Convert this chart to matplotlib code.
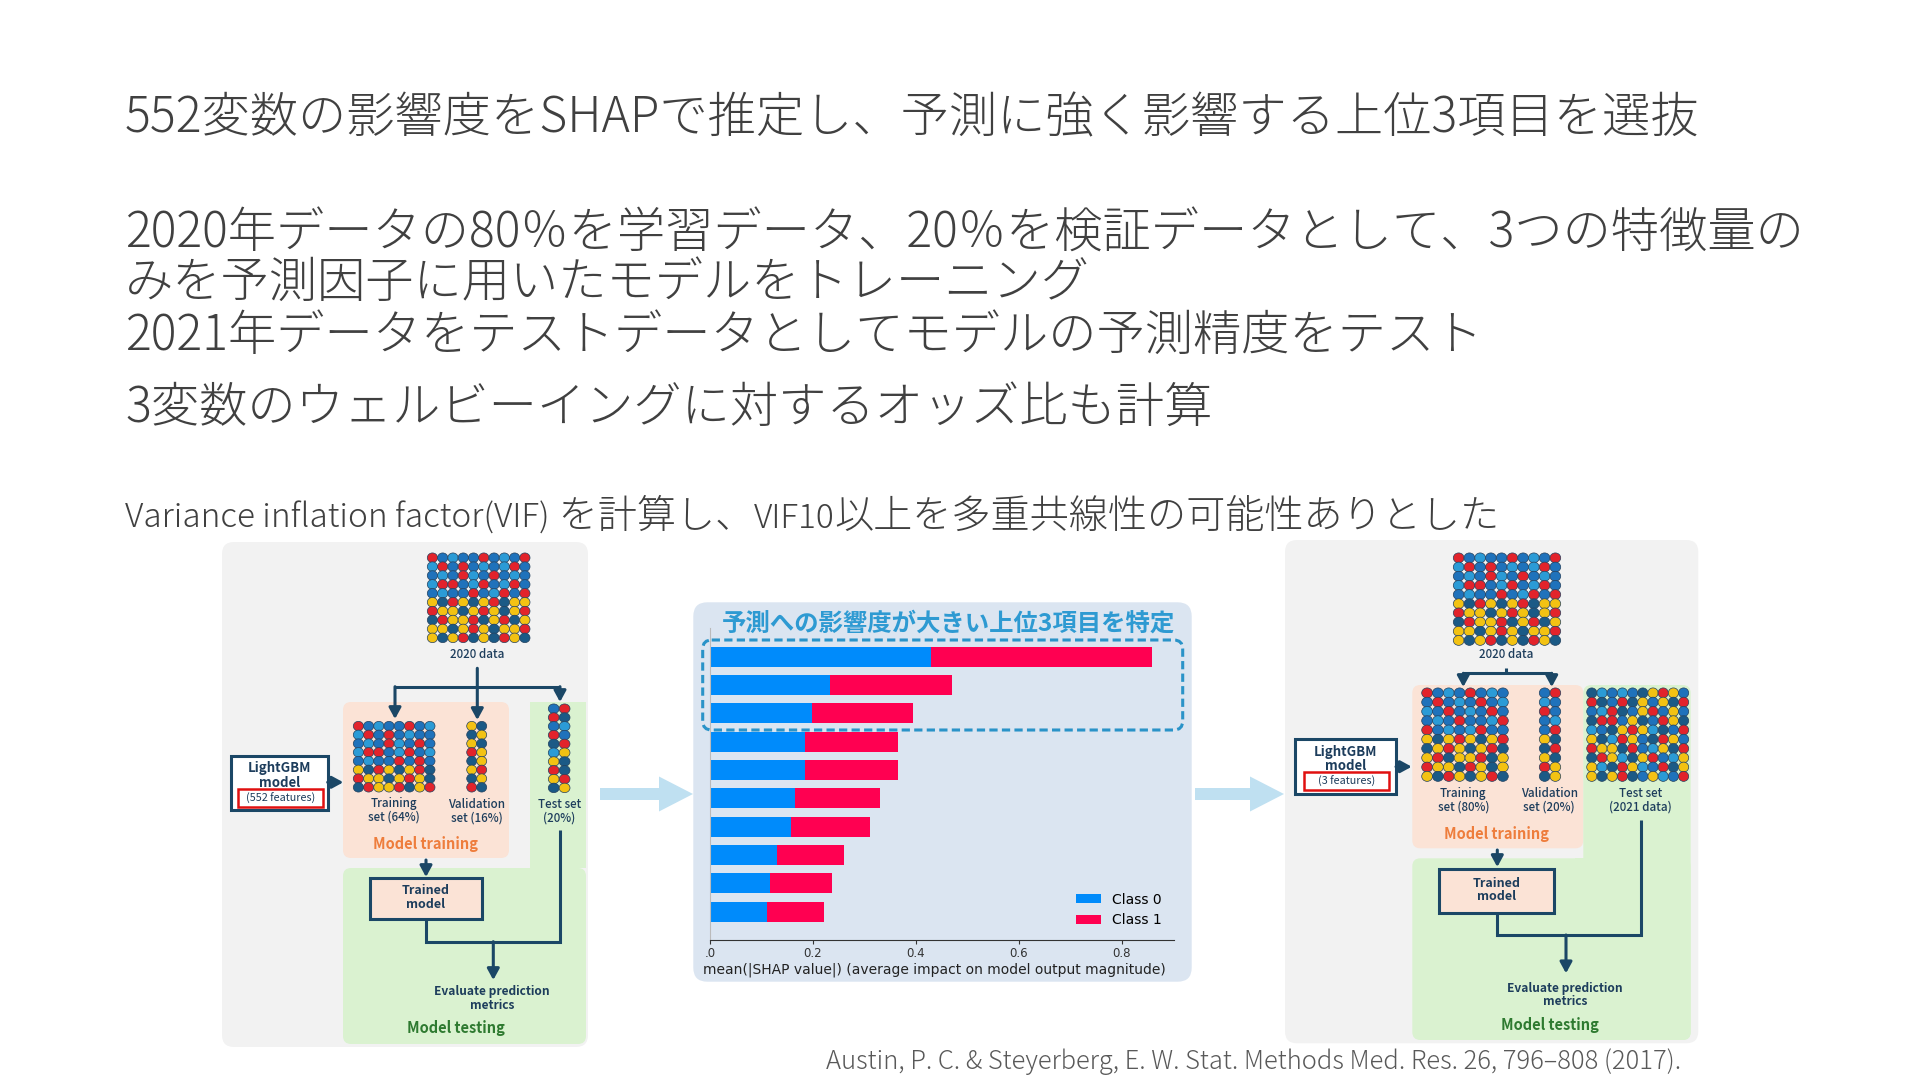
import matplotlib
matplotlib.use('Agg')
import matplotlib.pyplot as plt
from matplotlib.patches import FancyBboxPatch, Ellipse, Rectangle, FancyArrow
import numpy as np

plt.rcParams['font.family'] = ['Noto Sans CJK JP', 'DejaVu Sans']

# ---------------- data ----------------
heading_lines = [
    '552変数の影響度をSHAPで推定し、予測に強く影響する上位3項目を選抜',
    '2020年データの80％を学習データ、20％を検証データとして、3つの特徴量の',
    'みを予測因子に用いたモデルをトレーニング',
    '2021年データをテストデータとしてモデルの予測精度をテスト',
    '3変数のウェルビーイングに対するオッズ比も計算',
]
vif_note = 'Variance inflation factor(VIF) を計算し、VIF10以上を多重共線性の可能性ありとした'
citation = 'Austin, P. C. & Steyerberg, E. W. Stat. Methods Med. Res. 26, 796–808 (2017).'

shap_title = '予測への影響度が大きい上位3項目を特定'
shap_class0 = [0.430, 0.234, 0.198, 0.184, 0.184, 0.165, 0.157, 0.131, 0.117, 0.111]
shap_class1 = [0.429, 0.236, 0.196, 0.182, 0.182, 0.166, 0.155, 0.130, 0.121, 0.111]
shap_classes = ['Class 0', 'Class 1']
shap_xticks = [0.0, 0.2, 0.4, 0.6, 0.8]
shap_xticklabels = ['.0', '0.2', '0.4', '0.6', '0.8']
shap_xlabel = 'mean(|SHAP value|) (average impact on model output magnitude)'

left_labels = {'data': '2020 data', 'train': 'Training\nset (64%)', 'val': 'Validation\nset (16%)',
               'test': 'Test set\n(20%)', 'model': 'LightGBM\nmodel', 'feat': '(552 features)'}
right_labels = {'data': '2020 data', 'train': 'Training\nset (80%)', 'val': 'Validation\nset (20%)',
                'test': 'Test set\n(2021 data)', 'model': 'LightGBM\nmodel', 'feat': '(3 features)'}

grid_2020 = ["RBLBBRBLBR", "LRBRBLBLRB", "BLBRLBRBLB", "LRRBLRBLRB", "BLBBRBLRBR",
             "YDRYDYRDYY", "RYYDYRYDYR", "DRYYRDYRDY", "YYDYRYDYYR", "YDYRDYDRYD"]
grid_train_l = ["RBLBBRBL", "LRBRBLBB", "BLBRLBRB", "LRRBLRBL", "BLBBRBRB",
                "YDRYDYRD", "RYYDYRYD", "DRYYRDYR"]
grid_val_l = ["YD", "DY", "YD", "RY", "DY", "YR", "DY", "RD"]
grid_test_l = ["BR", "RD", "BL", "RB", "DR", "LY", "YD", "RD", "YR", "DY"]
grid_train_r = ["RBLBRBLB", "BRBLBRBL", "LBRBLBRB", "BLBRBBLR", "RBLBLRBB",
                "YDYRYDYR", "DYRYDYRD", "YRDYYRDY", "RYYDRYDY", "YDRYDYRD"]
grid_val_r = ["BR", "LB", "RB", "BL", "BR", "YD", "DR", "YD", "RY", "DY"]
grid_test_r = ["DLBLBDYRYB", "RDBRDYBYDR", "BLRDBYRBYB", "DRRBYDBRYD", "LBDYRYLDBR",
               "YDLRYBDRYB", "RYYDRBLYDR", "DRYLDYRBLY", "YLDRYLBRDY", "YDYRDBYLBR"]

dot_colors = {'R': '#e2232b', 'D': '#1b5a86', 'B': '#1f72bb', 'L': '#2b9bd6', 'Y': '#f3c213'}

# ---------------- styles ----------------
TXT = '#404040'
NAVY = '#1b4766'
DTXT = '#1d3d5c'
PEACH = '#fbe3d6'
GREEN = '#daf2d0'
GRAY = '#f2f2f2'
ORANGE = '#ee7d3c'
DGREEN = '#2e7a30'

fig = plt.figure(figsize=(19.2, 10.8), dpi=100)
fig.patch.set_facecolor('white')
ax = fig.add_axes([0, 0, 1, 1])
ax.set_xlim(0, 1920)
ax.set_ylim(1080, 0)
ax.axis('off')
renderer = fig.canvas.get_renderer()


def mixed_text(x, y, s, size_latin, size_cjk, **kw):
    """Draw text with Latin runs and CJK runs at different sizes, on one baseline."""
    def is_latin(ch):
        return ord(ch) < 128 and ch != ' '
    types = []
    for i, ch in enumerate(s):
        if ch == ' ':
            j = i
            while j < len(s) and s[j] == ' ':
                j += 1
            types.append(is_latin(s[j]) if j < len(s) else True)
        else:
            types.append(is_latin(ch))
    runs = []
    for ch, t in zip(s, types):
        if runs and runs[-1][1] == t:
            runs[-1][0] += ch
        else:
            runs.append([ch, t])
    for run, lat in runs:
        t = ax.text(x, y, run, fontsize=size_latin if lat else size_cjk, va='baseline', ha='left', **kw)
        bb = t.get_window_extent(renderer)
        x += bb.width


# ---------------- headings ----------------
head_y = [118.5, 233.5, 283.5, 336.5, 408.5]
for t, y in zip(heading_lines, head_y):
    ax.text(125, y, t, fontsize=34.75, color=TXT, va='center', ha='left', fontweight='light')
mixed_text(125, 528, vif_note, 24, 28.2, color=TXT, fontweight='light')
ax.text(1681, 1062, citation, fontsize=18.4, color='#595959', va='center', ha='right', fontweight='light')


def rbox(x0, y0, x1, y1, fc, ec='none', lw=0, r=10, z=1, ls='-'):
    p = FancyBboxPatch((x0, y0), x1 - x0, y1 - y0, boxstyle=f'round,pad=0,rounding_size={r}',
                       fc=fc, ec=ec, lw=lw, zorder=z, ls=ls)
    ax.add_patch(p)
    return p


def grid(pattern, x0, x1, y0, y1):
    nr = len(pattern)
    nc = len(pattern[0])
    px = (x1 - x0) / nc
    py = (y1 - y0) / nr
    for i, row in enumerate(pattern):
        for j, ch in enumerate(row):
            e = Ellipse((x0 + px * (j + 0.5), y0 + py * (i + 0.5)), px * 1.0, py * 1.08,
                        fc=dot_colors[ch], ec='#24415e', lw=0.5, zorder=5)
            ax.add_patch(e)


def arrow(x0, y0, x1, y1):
    ax.annotate('', xy=(x1, y1), xytext=(x0, y0),
                arrowprops=dict(arrowstyle='-|>,head_length=0.55,head_width=0.3', color=NAVY,
                                lw=2.2, shrinkA=0, shrinkB=0, mutation_scale=12), zorder=6)


def line(xs, ys):
    ax.plot(xs, ys, color=NAVY, lw=2.2, solid_capstyle='butt', solid_joinstyle='miter', zorder=6)


def dtext(x, y, s, size=8.2, color=DTXT, weight='medium'):
    ax.text(x, y, s, fontsize=size, color=color, ha='center', va='center', fontweight=weight,
            linespacing=1.05, zorder=7)


# ---------------- left panel ----------------
rbox(222, 542, 588, 1047, GRAY, r=12)
rbox(343, 702, 509, 858, PEACH, r=8, z=2)
ax.add_patch(Rectangle((530, 702), 56, 166, fc=GREEN, ec='none', zorder=2))
rbox(343, 868, 586, 1044, GREEN, r=8, z=2)
grid(grid_2020, 427.3, 530, 553.3, 642.3)
grid(grid_train_l, 353.3, 435, 721.7, 791.7)
grid(grid_val_l, 466.7, 486.7, 721.7, 791.7)
grid(grid_test_l, 548.3, 570, 704.3, 792.3)
dtext(477.3, 655, left_labels['data'], 8.4)
dtext(394.3, 810, left_labels['train'], 8.4)
dtext(476.7, 811, left_labels['val'], 8.4)
dtext(559.3, 811, left_labels['test'], 8.4)
dtext(425.7, 844.3, 'Model training', 10.5, ORANGE, 'bold')
dtext(455.7, 1028.3, 'Model testing', 10.5, DGREEN, 'bold')
dtext(491.7, 998.3, 'Evaluate prediction\nmetrics', 8.6, DTXT, 'bold')
# LightGBM box
ax.add_patch(Rectangle((231, 756), 96.7, 54, fc='white', ec=NAVY, lw=2.2, zorder=6))
ax.add_patch(Rectangle((237.7, 789.3), 85.6, 17.4, fc='white', ec='#e01010', lw=1.8, zorder=7))
dtext(279.3, 775.5, left_labels['model'], 9.5, DTXT, 'bold')
dtext(280.5, 798, left_labels['feat'], 7.8, DTXT, 'normal')
# trained model
ax.add_patch(Rectangle((370, 878.3), 111.7, 40.7, fc=PEACH, ec=NAVY, lw=2.2, zorder=6))
dtext(426, 897.7, 'Trained\nmodel', 9.0, DTXT, 'bold')
# flow lines
arrow(477.3, 668.3, 477.3, 720)
line([395, 560], [686.7, 686.7])
arrow(395, 686.7, 395, 719)
arrow(560, 686.7, 560, 702)
arrow(327.7, 782.3, 343.3, 782.3)
arrow(426, 860, 426, 877)
line([426, 426, 560, 560], [919, 941.7, 941.7, 830])
arrow(493.3, 941.7, 493.3, 980)

# ---------------- right panel ----------------
rbox(1285, 540, 1698.3, 1043.3, GRAY, r=12)
rbox(1412.3, 685, 1583.3, 848.3, PEACH, r=8, z=2)
rbox(1583.3, 685, 1690.7, 1040, GREEN, r=8, z=2)
rbox(1412.3, 858.3, 1690.7, 1040, GREEN, r=8, z=2)
ax.add_patch(Rectangle((1575, 858.3), 30, 40, fc=GREEN, ec='none', zorder=2))
grid(grid_2020, 1453.3, 1560.7, 553.3, 645)
grid(grid_train_r, 1421.7, 1508.3, 688.3, 781)
grid(grid_val_r, 1539.3, 1560.7, 688.3, 781)
grid(grid_test_r, 1586.7, 1688.7, 688.3, 781)
dtext(1506, 654, right_labels['data'], 8.4)
dtext(1463.3, 800, right_labels['train'], 8.4)
dtext(1549.3, 800.7, right_labels['val'], 8.4)
dtext(1640.7, 800.7, right_labels['test'], 8.4)
dtext(1496.7, 834, 'Model training', 10.5, ORANGE, 'bold')
dtext(1550, 1025, 'Model testing', 10.5, DGREEN, 'bold')
dtext(1565, 995, 'Evaluate prediction\nmetrics', 8.6, DTXT, 'bold')
ax.add_patch(Rectangle((1295, 739.3), 101, 54.7, fc='white', ec=NAVY, lw=2.2, zorder=6))
ax.add_patch(Rectangle((1304, 772.3), 85.3, 17.7, fc='white', ec='#e01010', lw=1.8, zorder=7))
dtext(1345.7, 759, right_labels['model'], 9.5, DTXT, 'bold')
dtext(1346.7, 781.5, right_labels['feat'], 7.8, DTXT, 'normal')
ax.add_patch(Rectangle((1439.3, 869.3), 114.7, 43.4, fc=PEACH, ec=NAVY, lw=2.2, zorder=6))
dtext(1496.7, 890, 'Trained\nmodel', 9.0, DTXT, 'bold')
line([1506, 1506], [668.3, 673.3])
line([1463.3, 1551.7], [673.3, 673.3])
arrow(1463.3, 673.3, 1463.3, 687)
arrow(1551.7, 673.3, 1551.7, 687)
arrow(1396, 766.7, 1411.7, 766.7)
arrow(1497.3, 850, 1497.3, 867)
line([1497.3, 1497.3, 1640.7, 1640.7], [912.7, 935, 935, 820])
arrow(1566, 935, 1566, 973.3)

# ---------------- connector arrows ----------------
for xs, xe in [(600, 693), (1195, 1284)]:
    ax.add_patch(FancyArrow(xs, 794, xe - xs, 0, width=12, head_width=35, head_length=34,
                            length_includes_head=True, fc='#bfe0f1', ec='none', zorder=3))

# ---------------- SHAP panel ----------------
rbox(693.3, 602.3, 1191.7, 981.7, '#dbe5f1', r=14, z=2)

sax = fig.add_axes([710 / 1920, 1 - 940 / 1080, 464 / 1920, 311.7 / 1080])
sax.set_facecolor('none')
n = len(shap_class0)
ypos = np.arange(n)[::-1]
sax.barh(ypos, shap_class0, height=0.7, color='#008bfb', label=shap_classes[0])
sax.barh(ypos, shap_class1, left=shap_class0, height=0.7, color='#ff0051', label=shap_classes[1])
sax.set_xlim(0, 0.902)
sax.set_ylim(-1, n)
sax.set_yticks([])
sax.set_xticks(shap_xticks)
sax.set_xticklabels(shap_xticklabels, family='DejaVu Sans')
sax.tick_params(axis='x', length=3, width=0.8, labelsize=8.5, colors='#333333', pad=2)
for s in ['top', 'right']:
    sax.spines[s].set_visible(False)
sax.spines['left'].set_color('#bbbbbb')
sax.spines['left'].set_linewidth(0.8)
sax.spines['bottom'].set_color('#333333')
sax.spines['bottom'].set_linewidth(0.8)
sax.set_xlabel(shap_xlabel, fontsize=10, family='DejaVu Sans', color='#222222', labelpad=2)
sax.xaxis.label.set_x(0.483)
leg = sax.legend(loc='lower right', frameon=False, prop={'family': 'DejaVu Sans', 'size': 10},
                 handlelength=1.8, handleheight=0.6)

# overlay for dashed highlight and title
top = fig.add_axes([0, 0, 1, 1])
top.set_xlim(0, 1920)
top.set_ylim(1080, 0)
top.axis('off')
top.patch.set_alpha(0)
top.add_patch(FancyBboxPatch((702.7, 640), 480, 90, boxstyle='round,pad=0,rounding_size=9',
                             fill=False, ec='#2a93c8', lw=2.2, ls=(0, (2.7, 1.4))))
top.text(948.5, 624, shap_title, fontsize=17.6, color='#2e9ad2', fontweight='bold',
         ha='center', va='center')

fig.savefig('out.png', dpi=100, facecolor='white')
